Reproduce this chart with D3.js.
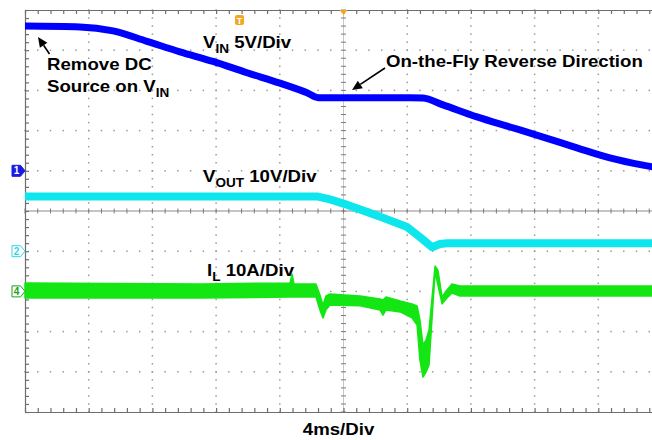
<!DOCTYPE html>
<html><head><meta charset="utf-8">
<script src="https://cdn.jsdelivr.net/npm/d3@7"></script>
<style>
body{margin:0;background:#fff}
svg{display:block}
text{font-family:"Liberation Sans",Arial,Helvetica,sans-serif;font-weight:bold}
</style>
</head><body><svg id="c" width="652" height="440"></svg>
<script>
// ---- data (time in ms, values in channel units) ----
const vinTime  = [-20,-16.55,-14.47,-12.34,-10.27,-8.19,-6.06,-3.99,-2.29,-1.60,4.18,4.99,6.25,8.38,10.46,12.53,14.66,16.73,18.81,20];
const vinVolts = [18.0,17.9,17.4,16.1,14.8,13.6,12.2,10.9,9.7,9.1,9.1,9.05,8.2,6.7,5.45,4.2,2.85,1.6,0.7,0.3];

const voutTime  = [-20,-1.6,-0.85,0,2.29,4.0,4.8,5.56,6.06,6.5,20];
const voutVolts = [13.6,13.6,12.9,11.85,8.6,6.0,3.5,1.0,1.8,2.0,2.0];

const ilTime = [-20,-9.01,-3.36,-3.23,-3.11,-1.73,-1.48,-1.29,-1.10,-0.85,1.04,2.29,2.48,2.67,3.56,4.30,4.62,4.80,4.99,5.18,5.37,5.75,5.93,6.19,6.50,6.81,7.31,20];
const ilHigh = [2.1,1.85,2.1,4.3,1.85,1.85,-0.9,-3.4,-1.15,-0.65,-1.15,-1.9,-2.15,-1.4,-2.4,-3.1,-3.6,-7.1,-13.3,-12.1,-9.6,6.3,5.3,-1.4,0.35,1.85,1.35,1.35];
const ilLow  = [-1.65,-1.65,-1.4,-1.4,-1.4,-1.4,-4.6,-6.6,-4.6,-3.4,-3.6,-4.6,-5.9,-4.6,-5.1,-6.6,-8.4,-17.1,-21.3,-20.1,-18.3,4.8,1.6,-3.1,-1.65,-0.4,-1.15,-1.15];

// channel settings: ground offset (divisions) and units per division
const channelNames   = ["1","2","4"];
const channelOffsets = [1,-1,-2];
const channelPerDiv  = [5,10,10];
const timePerDiv = 4;
const xDivs = 10, yDivs = 10;

const labelVin  = ["V","IN"," 5V/Div"];
const labelVout = ["V","OUT"," 10V/Div"];
const labelIl   = ["I","L"," 10A/Div"];
const noteRemove = ["Remove DC","Source on V","IN"];
const noteReverse = "On-the-Fly Reverse Direction";
const timeLabel = "4ms/Div";

// ---- layout ----
const svg = d3.select("#c");
const L = 25, T = 10, B = 412, R = 25 + 63.7*xDivs;
const x = d3.scaleLinear().domain([-timePerDiv*xDivs/2, timePerDiv*xDivs/2]).range([L, R]);
const yDiv = d3.scaleLinear().domain([-yDivs/2, yDivs/2]).range([B, T]);
const chScale = i => d3.scaleLinear()
  .domain([(-yDivs/2 - channelOffsets[i])*channelPerDiv[i], (yDivs/2 - channelOffsets[i])*channelPerDiv[i]])
  .range([B, T]);
const yVin = chScale(0), yVout = chScale(1), yIl = chScale(2);

const gridCol = "#9a9a9a", frameCol = "#6e6e6e";

// grid dots
const g = svg.append("g");
const majorX = d3.range(-xDivs/2+1, xDivs/2).map(d => d*timePerDiv).filter(d => d !== 0);
const majorY = d3.range(-yDivs/2+1, yDivs/2).filter(d => d !== 0);
const minorX = d3.range(-xDivs/2*timePerDiv, xDivs/2*timePerDiv+0.001, timePerDiv/5);
const minorY = d3.range(-yDivs/2, yDivs/2+0.001, 0.2);
majorY.forEach(r => {
  g.selectAll(null).data(minorX).enter().append("rect")
    .attr("x", d => x(d)-0.75).attr("y", yDiv(r)-0.75).attr("width",1.5).attr("height",1.5).attr("fill",gridCol);
});
majorX.forEach(c => {
  g.selectAll(null).data(minorY).enter().append("rect")
    .attr("x", x(c)-0.75).attr("y", d => yDiv(d)-0.75).attr("width",1.5).attr("height",1.5).attr("fill",gridCol);
});

// center cross
g.append("line").attr("x1",L).attr("x2",R).attr("y1",yDiv(0)).attr("y2",yDiv(0)).attr("stroke","#8a8a8a").attr("stroke-width",1);
g.append("line").attr("x1",x(0)).attr("x2",x(0)).attr("y1",T).attr("y2",B).attr("stroke","#c8c8c8").attr("stroke-width",1);
g.selectAll(null).data(minorX).enter().append("line")
  .attr("x1",d=>x(d)).attr("x2",d=>x(d)).attr("y1",yDiv(0)-2.5).attr("y2",yDiv(0)+2.5).attr("stroke","#7a7a7a");
g.selectAll(null).data(minorY).enter().append("line")
  .attr("x1",x(0)-2.5).attr("x2",x(0)+2.5).attr("y1",d=>yDiv(d)).attr("y2",d=>yDiv(d)).attr("stroke","#7a7a7a");

// frame axes with minor ticks
const styleAxis = sel => { sel.selectAll("path,line").attr("stroke",frameCol).attr("stroke-width",1.2); sel.selectAll("text").remove(); };
svg.append("g").attr("transform",`translate(${L},0)`)
  .call(d3.axisRight(yDiv).tickValues(minorY).tickSize(4).tickSizeOuter(0).tickFormat("")).call(styleAxis);
svg.append("g").attr("transform",`translate(0,${T})`)
  .call(d3.axisBottom(x).tickValues(minorX).tickSize(4).tickSizeOuter(0).tickFormat("")).call(styleAxis);
svg.append("g").attr("transform",`translate(0,${B})`)
  .call(d3.axisTop(x).tickValues(minorX).tickSize(4).tickSizeOuter(0).tickFormat("")).call(styleAxis);

// traces
const ilData = ilTime.map((t,i)=>({t, hi:ilHigh[i], lo:ilLow[i]}));
svg.append("path").datum(ilData)
  .attr("d", d3.area().x(d=>x(d.t)).y0(d=>yIl(d.lo)).y1(d=>yIl(d.hi)))
  .attr("fill","#14e614").attr("stroke","#14e614").attr("stroke-width",1.5).attr("stroke-linejoin","round");

const voutData = voutTime.map((t,i)=>({t, v:voutVolts[i]}));
svg.append("path").datum(voutData)
  .attr("d", d3.line().x(d=>x(d.t)).y(d=>yVout(d.v)))
  .attr("fill","none").attr("stroke","#0ee6ee").attr("stroke-width",8).attr("stroke-linejoin","round");

const vinData = vinTime.map((t,i)=>({t, v:vinVolts[i]}));
svg.append("path").datum(vinData)
  .attr("d", d3.line().curve(d3.curveMonotoneX).x(d=>x(d.t)).y(d=>yVin(d.v)))
  .attr("fill","none").attr("stroke","#0000ff").attr("stroke-width",7).attr("stroke-linejoin","round");

// channel markers
const markerColors = ["#1a1ae0","#2fd6e6","#1aa01a"];
channelNames.forEach((n,i) => {
  const yy = yDiv(channelOffsets[i]);
  const filled = i === 0;
  svg.append("path")
    .attr("d", `M12,${yy-5.5}L20.5,${yy-5.5}L25,${yy}L20.5,${yy+5.5}L12,${yy+5.5}Z`)
    .attr("fill", filled ? markerColors[i] : "#fff").attr("stroke", markerColors[i]).attr("stroke-width",1);
  svg.append("text").attr("x",16.5).attr("y",yy+3.5).attr("text-anchor","middle")
    .attr("font-size",10).attr("font-weight","normal")
    .attr("fill", filled ? "#fff" : markerColors[i]).text(n);
});

// trigger markers
svg.append("rect").attr("x",235).attr("y",15).attr("width",9).attr("height",10).attr("rx",2).attr("fill","#f5a623");
svg.append("text").attr("x",239.5).attr("y",23.5).attr("text-anchor","middle").attr("font-size",9).attr("fill","#fff").text("T");
svg.append("path").attr("d",`M${x(0)-4},${T}L${x(0)+4},${T}L${x(0)},${T+5}Z`).attr("fill","#f5a623");

// text helpers
const FS = 16.5, SX = 1.13;
function label(px, py, parts) {
  const t = svg.append("text").attr("transform",`translate(${px},${py}) scale(${SX},1)`).attr("font-size",FS).attr("fill","#000");
  t.append("tspan").text(parts[0]);
  if (parts.length > 1) t.append("tspan").attr("font-size",12).attr("dy",5).text(parts[1]);
  if (parts.length > 2) t.append("tspan").attr("dy",-5).text(parts[2]);
  return t;
}
label(203, 48, labelVin);
label(203, 182, labelVout);
label(207, 276, labelIl);
label(47, 70, [noteRemove[0]]);
label(47, 92, [noteRemove[1], noteRemove[2]]);
label(386, 67, [noteReverse]);
svg.append("text").attr("transform",`translate(${x(0)-5},435) scale(${SX},1)`).attr("text-anchor","middle")
  .attr("font-size",FS).attr("fill","#000").text(timeLabel);

// arrows
function arrow(x1,y1,x2,y2){
  const a = Math.atan2(y2-y1,x2-x1), hl = 10, hw = 4.5;
  const bx = x2 - hl*Math.cos(a), by = y2 - hl*Math.sin(a);
  svg.append("line").attr("x1",x1).attr("y1",y1).attr("x2",bx).attr("y2",by).attr("stroke","#000").attr("stroke-width",1.6);
  svg.append("path").attr("d",`M${x2},${y2}L${bx+hw*Math.sin(a)},${by-hw*Math.cos(a)}L${bx-hw*Math.sin(a)},${by+hw*Math.cos(a)}Z`).attr("fill","#000");
}
arrow(49.5,54,38,37);
arrow(385,68,352,90);
</script>
</body></html>
